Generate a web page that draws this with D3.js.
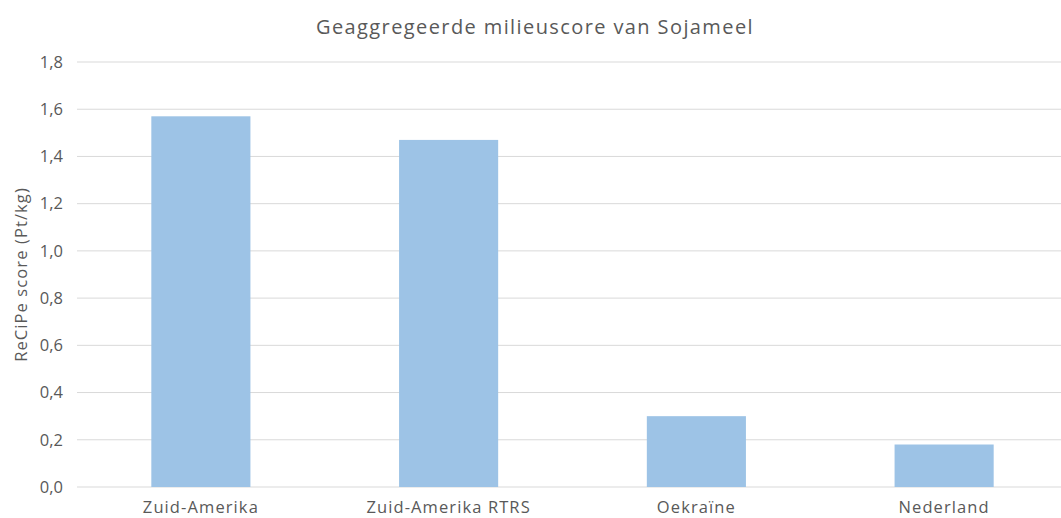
<!DOCTYPE html>
<html>
<head>
<meta charset="utf-8">
<script src="https://cdn.jsdelivr.net/npm/d3@7"></script>
<style>
  body { margin: 0; background: #fff; }
  text { font-family: "Open Sans", Lato, sans-serif; fill: #595959; }
</style>
</head>
<body>
<div id="chart"></div>
<script>
const categories = ["Zuid-Amerika", "Zuid-Amerika RTRS", "Oekraïne", "Nederland"];
const scores = [1.57, 1.47, 0.30, 0.18];
const yTicks = [0, 0.2, 0.4, 0.6, 0.8, 1.0, 1.2, 1.4, 1.6, 1.8];

(function () {
  const margin = { top: 62, right: -7, bottom: 31, left: 77 };
  const width = 1061 - margin.left - margin.right;
  const height = 518 - margin.top - margin.bottom;

  const root = d3.select("#chart")
    .append("svg")
    .attr("width", 1061)
    .attr("height", 518);

  const svg = root.append("g")
    .attr("transform", "translate(" + margin.left + "," + margin.top + ")");

  // bars are 40% of a category slot
  const xPositionScale = d3.scaleBand().domain(categories).range([0, width]).paddingInner(0.6).paddingOuter(0.3);
  const yPositionScale = d3.scaleLinear().domain([0, 1.8]).range([height, 0]);

  // gridlines
  svg.selectAll(".grid")
    .data(yTicks)
    .enter().append("line")
    .attr("x1", 0)
    .attr("x2", 1061 - margin.left)
    .attr("y1", d => yPositionScale(d))
    .attr("y2", d => yPositionScale(d))
    .attr("stroke", "#d9d9d9")
    .attr("stroke-width", 1);

  svg.selectAll(".bar")
    .data(scores)
    .enter().append("rect")
    .attr("x", (d, i) => xPositionScale(categories[i]))
    .attr("width", xPositionScale.bandwidth())
    .attr("y", d => yPositionScale(d))
    .attr("height", d => height - yPositionScale(d))
    .attr("fill", "#9dc3e6");

  const fmt = d => d.toFixed(1).replace(".", ",");

  const yAxis = d3.axisLeft(yPositionScale).tickValues(yTicks).tickFormat(fmt).tickSize(0).tickPadding(14);
  svg.append("g").call(yAxis)
    .call(g => g.select(".domain").remove())
    .selectAll("text")
    .attr("font-size", "16.5px")
    .attr("font-family", null)
    .attr("fill", null);

  const xAxis = d3.axisBottom(xPositionScale).tickSize(0).tickPadding(14);
  svg.append("g")
    .attr("transform", "translate(0," + height + ")")
    .call(xAxis)
    .call(g => g.select(".domain").remove())
    .selectAll("text")
    .attr("font-size", "16.5px")
    .attr("letter-spacing", "1.1px")
    .attr("font-family", null)
    .attr("fill", null);

  root.append("text")
    .attr("x", 535)
    .attr("y", 34)
    .attr("text-anchor", "middle")
    .attr("font-size", "20px")
    .attr("letter-spacing", "1.4px")
    .text("Geaggregeerde milieuscore van Sojameel");

  root.append("text")
    .attr("transform", "translate(27," + (margin.top + height / 2) + ") rotate(-90)")
    .attr("text-anchor", "middle")
    .attr("font-size", "16.5px")
    .attr("letter-spacing", "1.1px")
    .text("ReCiPe score (Pt/kg)");
})();
</script>
</body>
</html>
